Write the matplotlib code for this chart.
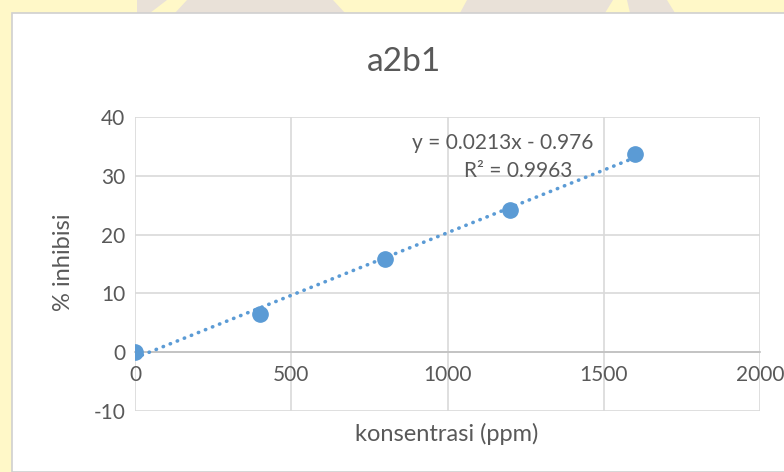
import numpy as np
import matplotlib.pyplot as plt
from matplotlib.patches import Rectangle, Polygon

# data
konsentrasi = [0, 400, 800, 1200, 1600]
inhibisi = [0, 6.5, 15.9, 24.2, 33.7]
slope = 0.0213
intercept = -0.976
r2 = 0.9963

xticks = [0, 500, 1000, 1500, 2000]
yticks = [-10, 0, 10, 20, 30, 40]

plt.rcParams['font.family'] = ['Lato', 'DejaVu Sans']
plt.rcParams['axes.unicode_minus'] = False
txt = '#595959'
blue = '#5B9BD5'
grid = '#D9D9D9'

fig = plt.figure(figsize=(7.84, 4.72), dpi=100)
fig.patch.set_facecolor('#FFF8C8')

# faint watermark shapes peeking out at the top
for pts in [[(137, 0), (167, 0), (150, 13), (137, 13)],
            [(187, 0), (333, 0), (345, 13), (175, 13)],
            [(467, 0), (613, 0), (605, 13), (460, 13)],
            [(627, 0), (667, 0), (675, 13), (630, 13)]]:
    fig.patches.append(Polygon([(x / 784, 1 - y / 472) for x, y in pts],
                               closed=True, transform=fig.transFigure,
                               facecolor='#E9E1D8', edgecolor='none', zorder=0))

# white chart area
fig.patches.append(Rectangle((12 / 784, 0), 1, 1 - 13 / 472, transform=fig.transFigure,
                             facecolor='white', edgecolor='#D0D0D0', lw=1.2, zorder=1))

ax = fig.add_axes([135 / 784, 61 / 472, 625 / 784, 294 / 472])
ax.set_facecolor('none')
ax.set_zorder(2)

ax.set_xlim(0, 2000)
ax.set_ylim(-10, 40)
ax.set_xticks(xticks)
ax.set_yticks(yticks)
ax.grid(True, color=grid, lw=1.2)
ax.set_axisbelow(True)

for s in ['top', 'right', 'left']:
    ax.spines[s].set_visible(False)
ax.spines['bottom'].set_position(('data', 0))
ax.spines['bottom'].set_color('#BFBFBF')
ax.spines['bottom'].set_linewidth(1.2)
ax.tick_params(length=0, labelsize=15, labelcolor=txt, pad=7)
ax.tick_params(axis='x', pad=9)

# trendline
xt = np.array([0, 1600])
ax.plot(xt, slope * xt + intercept, color=blue, lw=2.6, ls=(0, (0.1, 2.0)),
        dash_capstyle='round', zorder=3)
ax.plot(konsentrasi, inhibisi, 'o', color=blue, ms=11, zorder=4)

ax.text(1178, 35.5, 'y = %.4fx - %.3f' % (slope, -intercept), fontsize=15,
        color=txt, ha='center', va='center')
ax.text(1226, 30.8, 'R² = %.4f' % r2, fontsize=15, color=txt,
        ha='center', va='center')

fig.text(404 / 784, 1 - 62 / 472, 'a2b1', fontsize=24, color=txt,
         ha='center', va='center')
fig.text(447 / 784, 1 - 434 / 472, 'konsentrasi (ppm)', fontsize=17, color=txt,
         ha='center', va='center')
fig.text(64 / 784, 1 - 262 / 472, '% inhibisi', fontsize=17, color=txt,
         ha='center', va='center', rotation=90)

fig.savefig('out.png', dpi=100, facecolor=fig.get_facecolor())
